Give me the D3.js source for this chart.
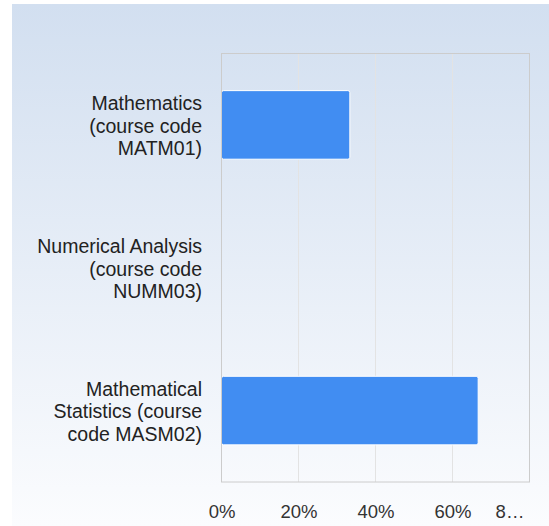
<!DOCTYPE html>
<html>
<head>
<meta charset="utf-8">
<script src="https://cdn.jsdelivr.net/npm/d3@7"></script>
<style>
  html, body { margin: 0; padding: 0; background: #fff; }
  svg { display: block; font-family: "Liberation Sans", Arial, sans-serif; }
</style>
</head>
<body>
<div id="chart"></div>
<script>
// course labels, one line per array entry
const courses = [
    ['Mathematics', '(course code', 'MATM01)'],
    ['Numerical Analysis', '(course code', 'NUMM03)'],
    ['Mathematical', 'Statistics (course', 'code MASM02)']
];
const shares = [1 / 3, 0, 2 / 3];
const xTicks = [0, 0.2, 0.4, 0.6, 0.8];

const width = 549, height = 526;
const margin = { top: 53.5, right: 19.5, bottom: 44, left: 221.5 };

const svg = d3.select('#chart')
    .append('svg')
    .attr('width', width)
    .attr('height', height);

const defs = svg.append('defs');
const grad = defs.append('linearGradient')
    .attr('id', 'bg')
    .attr('x1', 0).attr('y1', 0)
    .attr('x2', 0).attr('y2', 1);
grad.append('stop').attr('offset', '0%').attr('stop-color', '#d2dff0');
grad.append('stop').attr('offset', '100%').attr('stop-color', '#fbfcfe');

svg.append('rect')
    .attr('x', 12).attr('y', 4)
    .attr('width', width - 12).attr('height', height - 4)
    .attr('fill', 'url(#bg)');

const innerW = width - margin.left - margin.right;
const innerH = height - margin.top - margin.bottom;

const x = d3.scaleLinear().domain([0, 0.8]).range([0, innerW]);
const y = d3.scaleBand()
    .domain(courses.map((c, i) => i))
    .range([0, innerH])
    .paddingInner(0.52)
    .paddingOuter(0.26);

const g = svg.append('g')
    .attr('transform', `translate(${margin.left},${margin.top})`);

// grid lines
g.selectAll('.grid')
    .data(xTicks.slice(1, -1))
    .enter()
    .append('line')
    .attr('x1', d => x(d)).attr('x2', d => x(d))
    .attr('y1', 0).attr('y2', innerH)
    .attr('stroke', '#e3e3e3')
    .attr('stroke-width', 1);

// bars
g.selectAll('.bar')
    .data(shares)
    .enter()
    .append('rect')
    .attr('class', 'bar')
    .attr('x', x(0))
    .attr('y', (d, i) => y(i))
    .attr('width', d => x(d))
    .attr('height', y.bandwidth())
    .attr('rx', 2).attr('ry', 2)
    .attr('fill', '#418df2')
    .attr('stroke', d => d > 0 ? '#ffffff' : 'none')
    .attr('stroke-width', 1);

// frame
g.append('rect')
    .attr('x', 0).attr('y', 0)
    .attr('width', innerW).attr('height', innerH)
    .attr('fill', 'none')
    .attr('stroke', '#cccccc')
    .attr('stroke-width', 1);

// x axis labels
const xAxis = d3.axisBottom(x)
    .tickValues(xTicks)
    .tickFormat(d3.format('.0%'))
    .tickSize(0)
    .tickPadding(0);

const ax = g.append('g')
    .attr('transform', `translate(0,${innerH})`)
    .call(xAxis);
ax.select('.domain').remove();
ax.selectAll('text')
    .attr('y', 36)
    .attr('dy', 0)
    .attr('font-size', 18.5)
    .attr('font-family', '"Liberation Sans", Arial, sans-serif')
    .attr('fill', '#333');
// last label does not fit and is cut short
ax.selectAll('.tick').filter(d => d === 0.8)
    .select('text')
    .text('8…')
    .attr('x', -20);

// category labels
const lineH = 22.5;
const labels = g.selectAll('.cat')
    .data(courses)
    .enter()
    .append('text')
    .attr('class', 'cat')
    .attr('text-anchor', 'end')
    .attr('font-size', 19.5)
    .attr('fill', '#222')
    .attr('transform', (d, i) => `translate(-19.5,${y(i) + y.bandwidth() / 2 + 1})`);

labels.selectAll('tspan')
    .data(d => d.map((t, k) => ({ t, k, n: d.length })))
    .enter()
    .append('tspan')
    .attr('x', 0)
    .attr('y', d => (d.k - (d.n - 1) / 2) * lineH)
    .attr('dy', '0.35em')
    .text(d => d.t);
</script>
</body>
</html>
